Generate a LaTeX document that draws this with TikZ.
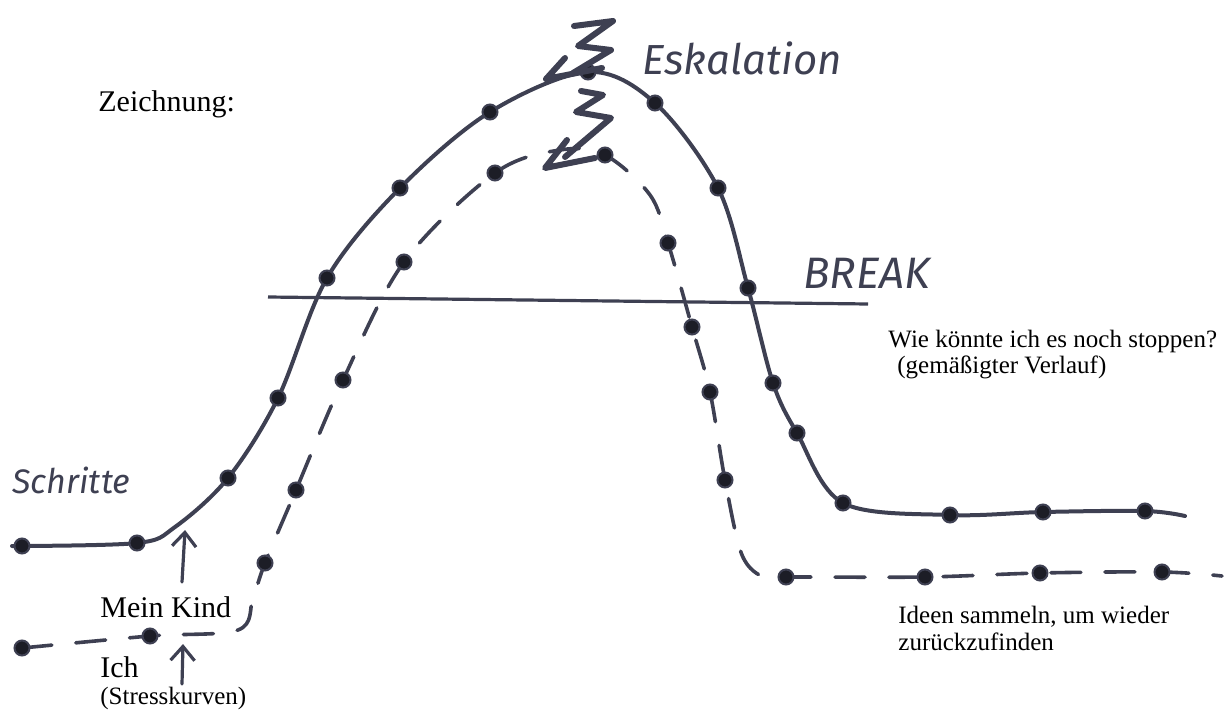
\documentclass[tikz,border=0pt]{standalone}
\usepackage{fontspec}
\setmainfont{Liberation Serif}
\newfontfamily\hand{Fira Sans}
\usepackage{tikz}
\usetikzlibrary{arrows.meta}
\definecolor{ink}{RGB}{62,64,82}
\definecolor{inkdot}{RGB}{28,29,38}

\tikzset{
	dot/.style={circle, fill=inkdot, draw=ink, line width=1pt, inner sep=0pt, minimum size=7.5pt},
	curve/.style={ink, line width=2pt, line cap=round, line join=round},
	dashcurve/.style={curve, line width=1.8pt, dash pattern=on 15pt off 12pt},
	zigzag/.style={curve, line width=3pt},
	label/.style={anchor=base west, inner sep=0pt, font=\fontsize{15}{17}\selectfont},
	note/.style={anchor=base west, inner sep=0pt, font=\fontsize{12.5}{15}\selectfont},
	handtext/.style={anchor=base west, inner sep=0pt, ink, font=\hand\itshape\fontsize{21}{23}\selectfont},
	uparrow/.style={ink, line width=1.6pt, line cap=round, -{Straight Barb[length=7pt, width=12pt, line width=1.6pt]}}
}

\begin{document}
\begin{tikzpicture}[x=0.5pt, y=-0.5pt]
	\useasboundingbox (0,0) rectangle (1229,711);

	% Schritte: my child's curve
	\draw[curve] plot[smooth, tension=0.55] coordinates {
		(12,546) (137,543) (175,527) (228,478) (278,398) (327,278)
		(400,188) (490,112) (588,72) (655,103) (718,188) (748,288)
		(773,383) (797,433) (843,503) (950,515) (1043,512) (1145,511) (1185,516)};
	\foreach \x/\y [count=\i] in {22/546, 137/543, 228/478, 278/398, 327/278, 400/188,
		490/112, 588/72, 655/103, 718/188, 748/288, 773/383, 797/433, 843/503,
		950/515, 1043/512, 1145/511}
		\node[dot] (k\i) at (\x,\y) {};

	% my own stress curve
	\draw[dashcurve] plot[smooth, tension=0.55] coordinates {
		(22,648) (150,636) (238,630) (253,598) (265,563) (296,490) (343,380)
		(404,262) (495,173) (560,150) (605,155) (650,195) (668,243) (692,327)
		(710,392) (725,480) (742,555) (765,578) (786,577) (925,577)
		(1040,573) (1162,572) (1222,576)};
	\foreach \x/\y [count=\i] in {22/648, 150/636, 265/563, 296/490, 343/380, 404/262,
		495/173, 605/155, 668/243, 692/327, 710/392, 725/480, 786/577, 925/577,
		1040/573, 1162/572}
		\node[dot] (i\i) at (\x,\y) {};

	% escalation zigzags
	\draw[zigzag] (574,26) -- (613,21) -- (578,46) -- (611,50) -- (573,73);
	\draw[zigzag] (565,58) -- (546,79) -- (602,68);
	\draw[zigzag] (581,91) -- (603,95) -- (576,112) -- (611,118) -- (565,157);
	\draw[zigzag] (567,140) -- (545,168) -- (595,158);

	% break line
	\coordinate (b0) at (268,297);
	\coordinate (b1) at (868,304);
	\draw[ink, line width=1.6pt] (b0) -- (b1);

	% arrows
	\coordinate (m0) at (182,582);
	\coordinate (m1) at (185,530);
	\coordinate (n0) at (182,684);
	\coordinate (n1) at (183,644);
	\draw[uparrow] (m0) -- (m1);
	\draw[uparrow] (n0) -- (n1);

	% handwriting
	\node[handtext] (esk) at (642,75) {Eskalation};
	\node[handtext, font=\hand\itshape\fontsize{22}{24}\selectfont] (brk) at (803,288) {BREAK};
	\node[handtext, font=\hand\itshape\fontsize{17}{19}\selectfont] (sch) at (12,493) {Schritte};

	% printed text
	\node[label] (zei) at (98,112) {Zeichnung:};
	\node[label] (kind) at (100,617) {Mein Kind};
	\node[label] (ich) at (100,677) {Ich};
	\node[note] (str) at (100,704) {(Stresskurven)};
	\node[note] (stop) at (888,347) {Wie könnte ich es noch stoppen?};
	\node[note] (gem) at (897,373) {(gemäßigter Verlauf)};
	\node[note] (ide) at (898,623) {Ideen sammeln, um wieder};
	\node[note] (zur) at (898,650) {zurückzufinden};
\end{tikzpicture}
\end{document}
